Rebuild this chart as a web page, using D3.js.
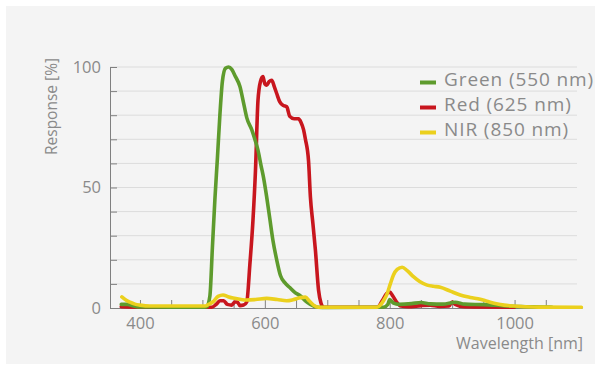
<!DOCTYPE html>
<html>
<head>
<meta charset="utf-8">
<script src="https://cdn.jsdelivr.net/npm/d3@7"></script>
<style>
  body { margin: 0; background: #fff; }
  text { font-family: "Open Sans", sans-serif; fill: #8a8a8a; }
</style>
</head>
<body>
<svg id="chart" width="595" height="369"></svg>
<script>
// response curves, [wavelength nm, response %]
var green = [
  [370, 1.5], [380, 1.5], [390, 0.8], [400, 0.4], [450, 0.3], [500, 0.3], [507, 0.5],
  [512, 5], [516, 25], [520, 45], [524, 62], [528, 80], [532, 94], [537, 99.5], [542, 100],
  [547, 99], [553, 96], [560, 92], [566, 85], [571, 79], [579, 74], [584, 70], [589, 65.5],
  [594, 59], [598, 54], [603, 46], [608, 37], [613, 28], [619, 20], [625, 13.5], [632, 10.5],
  [640, 8.5], [648, 6.5], [657, 5], [665, 3], [673, 1.5], [685, 0.3], [700, 0.2], [790, 0.3],
  [797, 1.5], [800, 3.5], [806, 2], [815, 1.5], [835, 1.8], [850, 2.3], [865, 1.7], [885, 1.6],
  [905, 2.4], [920, 1.6], [950, 1.4], [980, 1], [1010, 0.6], [1050, 0.4], [1060, 0.3]
];
var red = [
  [370, 0.5], [400, 0.3], [500, 0.3], [515, 0.3], [522, 1.5], [528, 3], [534, 3], [540, 1.5],
  [547, 1.2], [552, 2.5], [556, 2.5], [560, 1], [566, 1.2], [571, 2.5], [576, 18], [581, 36.5],
  [585, 57], [589, 86], [593, 94], [597, 96], [600, 93], [603, 92.5], [607, 94], [611, 94.5],
  [615, 92], [619, 89], [624, 85.5], [630, 84], [635, 83.5], [640, 79.5], [647, 78.5],
  [654, 78.5], [658, 77], [662, 74], [665, 70], [670, 61], [673, 46], [677, 35], [681, 24],
  [686, 7.5], [690, 2], [694, 0.3], [780, 0.3], [788, 3], [795, 6], [800, 6.6], [805, 5],
  [811, 2.5], [818, 0.8], [830, 0.5], [850, 1], [865, 1.2], [880, 0.6], [895, 0.8], [900, 2.5],
  [905, 1.5], [920, 0.5], [1000, 0.3]
];
var nir = [
  [371, 4.6], [378, 3.2], [384, 2.4], [392, 1.6], [400, 1.2], [416, 0.8], [504, 0.8], [510, 1.5],
  [517, 2.6], [525, 4.8], [533, 5.4], [541, 4.7], [549, 4.1], [560, 3.6], [571, 3.3], [585, 3.5],
  [603, 4], [620, 3.5], [635, 3], [645, 3.4], [657, 4.3], [665, 4.5], [671, 3], [678, 1.2],
  [686, 0.3], [780, 0.3], [785, 1.2], [790, 3], [796, 6], [801, 10], [806, 13.7], [812, 16],
  [820, 16.9], [828, 15.5], [838, 13], [848, 11], [860, 9.5], [870, 9], [881, 8.6], [897, 7],
  [913, 5.4], [929, 4.4], [945, 3.6], [956, 2.8], [967, 2], [983, 1.2], [999, 0.8], [1030, 0.4],
  [1107, 0.3]
];

var seriesNames = ["Green (550 nm)", "Red (625 nm)", "NIR (850 nm)"];
var seriesColors = ["#5e9b2d", "#c8161e", "#ebd01d"];
var seriesData = [green, red, nir];
var drawOrder = [1, 0, 2]; // red under green, NIR on top

var xLabels = [400, 600, 800, 1000];
var xMinor = d3.range(400, 1051, 50);
var yLabels = [0, 50, 100];
var yMinor = d3.range(0, 101, 10);

var svg = d3.select("#chart");

svg.append("rect")
  .attr("x", 6).attr("y", 6)
  .attr("width", 589).attr("height", 358)
  .attr("fill", "#f4f4f4");

var x = d3.scaleLinear().domain([352, 1108]).range([110, 582]);
var y = d3.scaleLinear().domain([0, 100]).range([308, 67]);

// horizontal grid
svg.append("g")
  .selectAll("line")
  .data(yMinor.filter(d => d > 0))
  .enter()
  .append("line")
  .attr("x1", 110).attr("x2", 577)
  .attr("y1", d => y(d)).attr("y2", d => y(d))
  .attr("stroke", "#dcdcdc")
  .attr("stroke-width", 1);

// y axis: labels + inward ticks
var yAxis = svg.append("g")
  .attr("transform", "translate(110,0)")
  .call(d3.axisLeft(y).tickValues(yLabels).tickSize(0).tickPadding(9));
yAxis.select(".domain").attr("stroke", "#808080");
yAxis.selectAll("text").style("font-size", "16.5px").attr("fill", "#8a8a8a");

var yTicks = svg.append("g")
  .attr("transform", "translate(110,0)")
  .call(d3.axisRight(y).tickValues(yMinor).tickSize(7).tickFormat(""));
yTicks.select(".domain").remove();
yTicks.selectAll("line").attr("stroke", "#808080");

// x axis
var xAxis = svg.append("g")
  .attr("transform", "translate(0,308)")
  .call(d3.axisBottom(x).tickValues(xLabels).tickSize(0).tickPadding(9).tickFormat(d3.format("d")));
xAxis.select(".domain").attr("stroke", "#808080");
xAxis.selectAll("text").style("font-size", "16.5px").attr("fill", "#8a8a8a");

var xTicks = svg.append("g")
  .attr("transform", "translate(0,308)")
  .call(d3.axisTop(x).tickValues(xMinor).tickSize(8).tickFormat(""));
xTicks.select(".domain").remove();
xTicks.selectAll("line").attr("stroke", "#808080");

// axis titles
svg.append("text")
  .attr("transform", "translate(57,106.5) rotate(-90)")
  .attr("text-anchor", "middle")
  .style("font-size", "15.5px")
  .text("Response [%]");

svg.append("text")
  .attr("x", 583)
  .attr("y", 349)
  .attr("text-anchor", "end")
  .style("font-size", "16px")
  .text("Wavelength [nm]");

// curves
var line = d3.line()
  .x(d => x(d[0]))
  .y(d => y(d[1]))
  .curve(d3.curveMonotoneX);

svg.append("g")
  .selectAll("path")
  .data(drawOrder)
  .enter()
  .append("path")
  .attr("d", i => line(seriesData[i]))
  .attr("fill", "none")
  .attr("stroke", i => seriesColors[i])
  .attr("stroke-width", 3.6)
  .attr("stroke-linejoin", "round")
  .attr("stroke-linecap", "round");

// legend
var legend = svg.selectAll(".legend")
  .data(seriesNames)
  .enter()
  .append("g")
  .attr("class", "legend")
  .attr("transform", (d, i) => "translate(420," + (86 + i * 25) + ")");

legend.append("rect")
  .attr("x", 0)
  .attr("y", -5.5)
  .attr("width", 16)
  .attr("height", 4)
  .attr("fill", (d, i) => seriesColors[i]);

legend.append("text")
  .attr("x", 24)
  .attr("y", 0)
  .style("font-size", "19px")
  .style("letter-spacing", "0.9px")
  .text(d => d);
</script>
</body>
</html>
